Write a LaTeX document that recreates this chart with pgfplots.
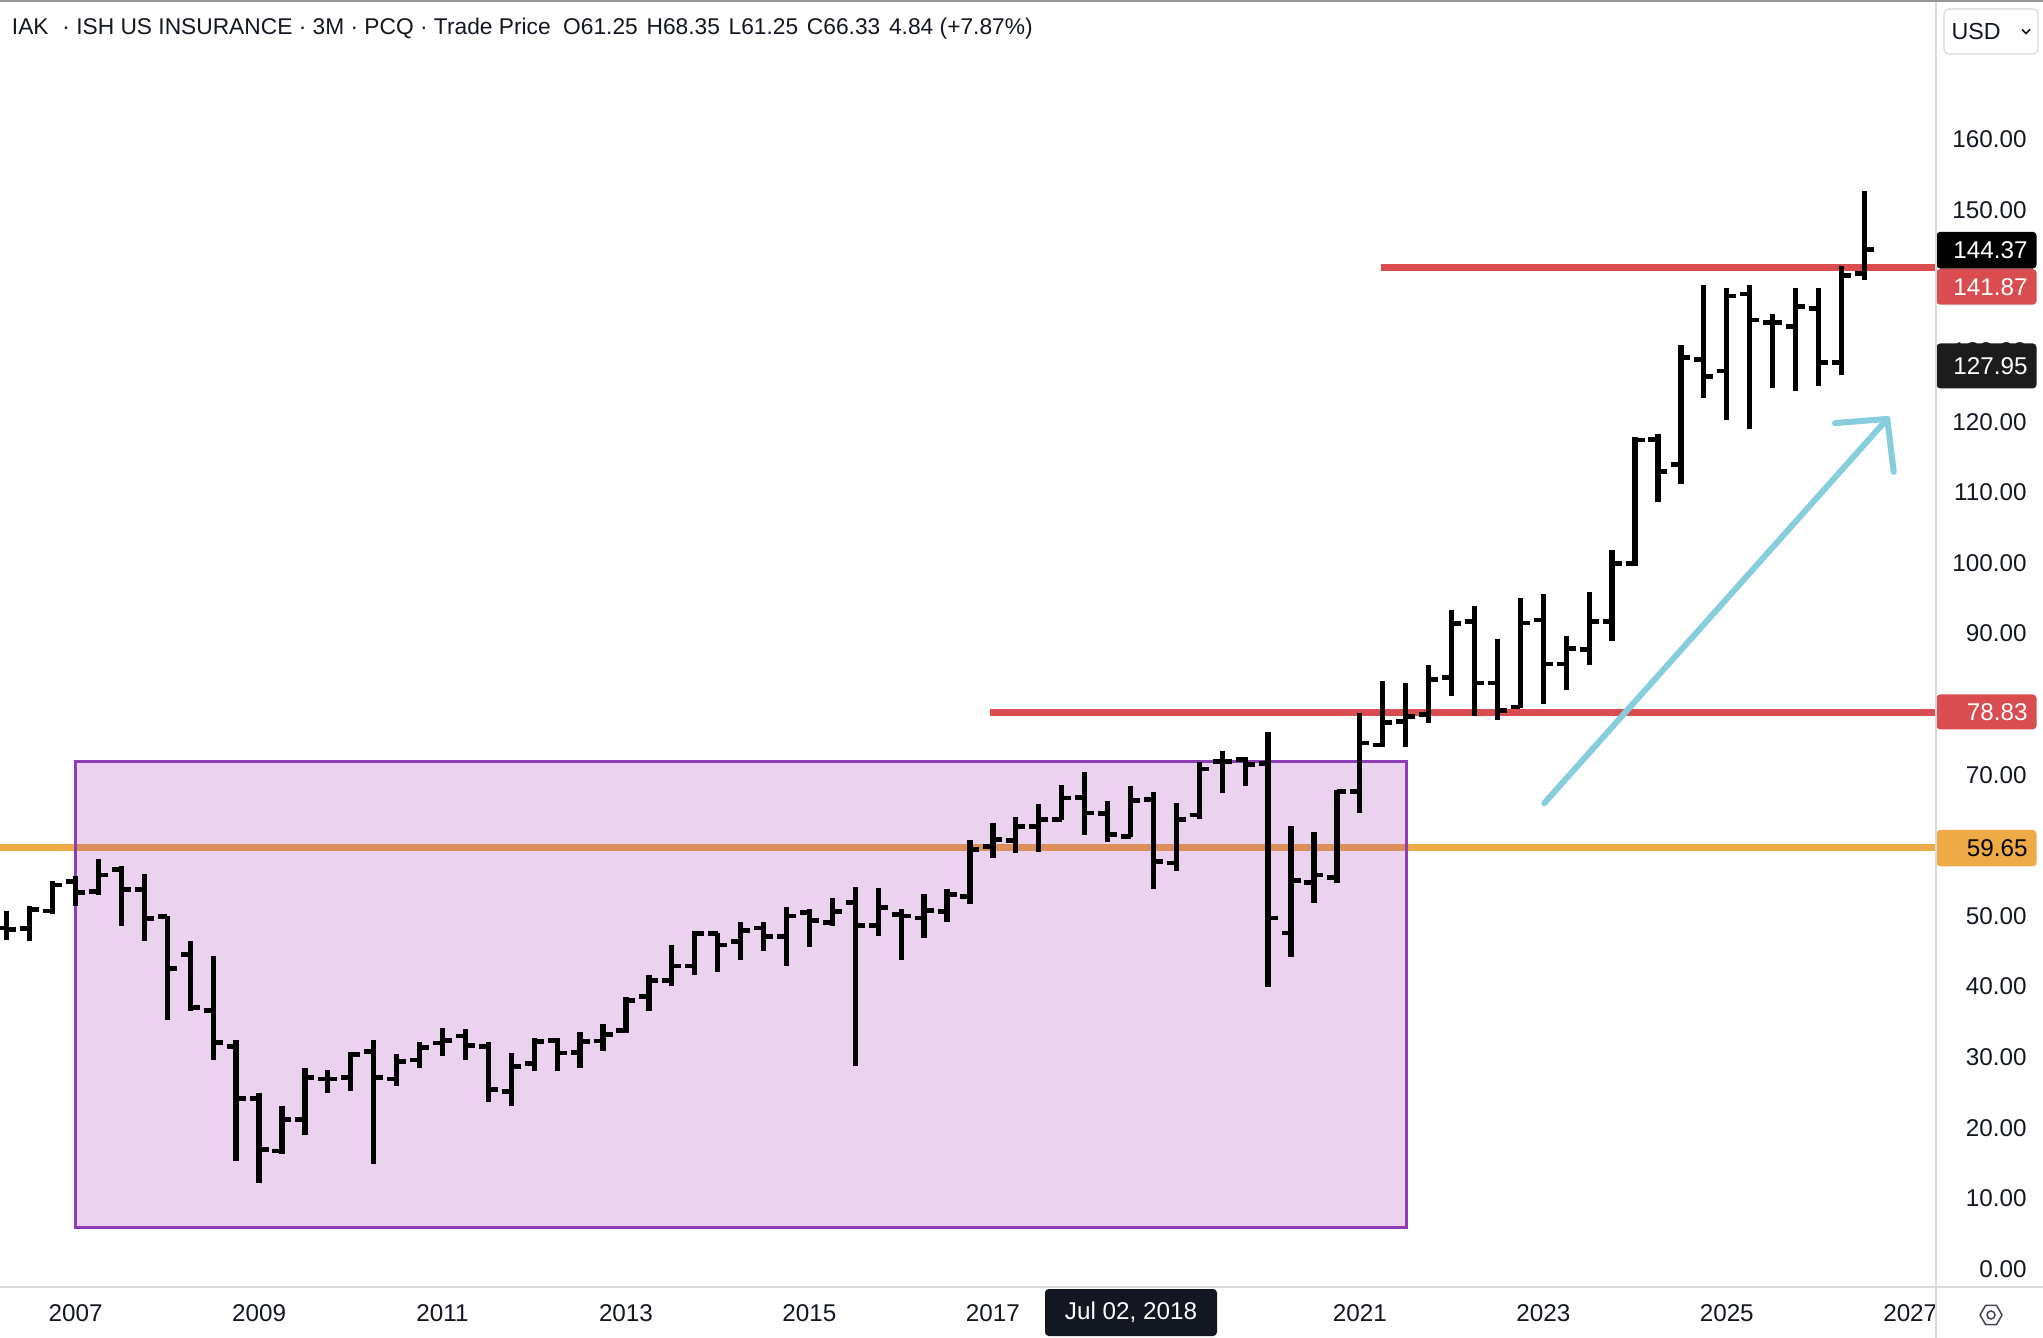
\documentclass[border=0pt]{standalone}
\usepackage{fontspec}
\setmainfont{Liberation Sans}
\usepackage{pgfplots}
\pgfplotsset{compat=1.18}
\usepackage{pgfplotstable}

\definecolor{rectborder}{HTML}{8E3DB5}
\definecolor{rectfill}{HTML}{9C27B0}
\definecolor{orng}{HTML}{EEAA46}
\definecolor{redl}{HTML}{D94D50}
\definecolor{cyanl}{HTML}{86CEDE}
\definecolor{tvtext}{HTML}{131722}
\definecolor{sepgray}{HTML}{D8DAE0}
\definecolor{darklbl}{HTML}{1C1C1C}

\pgfdeclareplotmark{otick}{\pgfpathmoveto{\pgfqpoint{-3.8bp}{0bp}}\pgfpathlineto{\pgfqpoint{0bp}{0bp}}\pgfusepathqstroke}
\pgfdeclareplotmark{ctick}{\pgfpathmoveto{\pgfqpoint{0bp}{0bp}}\pgfpathlineto{\pgfqpoint{3.8bp}{0bp}}\pgfusepathqstroke}

\newcommand{\lbl}{\fontsize{9.7bp}{11bp}\selectfont}

\pgfplotstableread{
x o h l c
2006.25 48.3 50.7 46.6 48.1
2006.50 48.2 51.4 46.4 50.9
2006.75 50.7 55.0 50.3 54.4
2007.00 54.9 55.6 51.4 53.3
2007.25 53.5 58.0 52.9 55.8
2007.50 56.6 57.1 48.6 53.7
2007.75 53.8 56.0 46.5 49.6
2008.00 49.9 50.0 35.2 42.6
2008.25 44.5 46.4 36.6 37.0
2008.50 36.6 44.4 29.6 32.1
2008.75 31.5 32.5 15.3 24.1
2009.00 24.2 24.9 12.2 16.9
2009.25 16.7 23.1 16.3 21.2
2009.50 21.2 28.5 19.0 27.1
2009.75 26.9 28.2 24.9 26.9
2010.00 27.1 30.7 25.2 30.4
2010.25 30.8 32.5 14.8 27.1
2010.50 26.9 30.4 25.9 29.4
2010.75 29.6 32.2 28.4 31.4
2011.00 32.0 34.1 30.1 32.4
2011.25 33.0 34.0 29.6 31.7
2011.50 31.5 32.2 23.6 25.4
2011.75 25.1 30.6 23.1 28.7
2012.00 29.1 32.7 28.1 32.2
2012.25 32.4 32.7 28.0 30.6
2012.50 30.7 33.6 28.4 32.2
2012.75 32.3 34.7 30.9 33.2
2013.00 33.8 38.5 33.4 38.0
2013.25 38.6 41.6 36.6 40.9
2013.50 40.9 45.9 40.1 42.9
2013.75 42.9 47.8 41.6 47.5
2014.00 47.5 47.6 42.1 45.9
2014.25 46.4 49.1 43.8 47.9
2014.50 48.3 49.1 45.1 47.1
2014.75 47.1 51.2 42.9 50.0
2015.00 50.5 51.0 45.6 49.4
2015.25 49.1 52.6 48.6 50.6
2015.50 51.9 54.1 28.8 48.6
2015.75 48.7 53.9 47.2 51.2
2016.00 50.2 51.0 43.7 50.0
2016.25 49.7 53.1 46.9 50.8
2016.50 50.6 53.8 49.1 53.0
2016.75 52.8 60.8 51.7 59.4
2017.00 59.8 63.2 58.2 60.8
2017.25 60.7 64.0 58.9 62.7
2017.50 62.7 65.9 59.0 63.7
2017.75 63.7 68.5 63.6 66.7
2018.00 66.8 70.4 61.5 64.6
2018.25 64.5 66.3 60.5 61.5
2018.50 61.25 68.35 61.25 66.33
2018.75 66.5 67.5 53.8 57.7
2019.00 57.5 66.0 56.4 63.7
2019.25 64.3 71.8 63.7 70.8
2019.50 71.9 73.3 67.4 71.9
2019.75 72.2 72.5 68.4 71.4
2020.00 71.6 76.1 40.0 49.7
2020.25 47.6 62.7 44.2 55.0
2020.50 54.7 61.9 51.9 55.8
2020.75 55.5 67.8 54.6 67.6
2021.00 67.6 78.7 64.6 74.5
2021.25 74.2 83.3 74.0 77.4
2021.50 77.5 83.0 74.0 78.3
2021.75 78.5 85.5 77.4 83.5
2022.00 83.8 93.3 81.1 91.4
2022.25 91.7 93.9 78.3 83.0
2022.50 83.0 89.2 77.7 79.1
2022.75 79.6 95.1 79.4 91.5
2023.00 91.9 95.6 80.0 85.7
2023.25 85.7 89.6 82.0 87.9
2023.50 87.7 95.9 85.5 91.7
2023.75 91.7 101.9 89.0 99.9
2024.00 99.9 117.9 99.5 117.4
2024.25 117.5 118.3 108.7 113.0
2024.50 113.9 130.8 111.2 129.1
2024.75 128.8 139.4 123.3 126.4
2025.00 127.2 139.0 120.2 137.8
2025.25 138.1 139.4 118.9 134.4
2025.50 134.0 135.3 124.8 134.0
2025.75 133.5 139.0 124.3 136.3
2026.00 136.0 139.0 125.0 128.4
2026.25 128.4 142.1 126.6 140.7
2026.50 141.0 152.7 140.1 144.4
}\ohlc

\begin{document}
\begin{tikzpicture}
\path[use as bounding box] (0bp,-20.4bp) rectangle (817.2bp,514.8bp);
\fill[white] (0bp,-20.4bp) rectangle (817.2bp,514.8bp);
\begin{axis}[
  at={(0bp,0bp)}, anchor=south west, scale only axis,
  width=774.4bp, height=514.8bp,
  xmin=2006.176, xmax=2027.281, ymin=-2.55, ymax=179.73,
  axis x line*=bottom, axis y line*=right,
  axis line style={draw=none},
  tick style={draw=none},
  clip mode=individual,
  xtick={2007,2009,...,2027},
  ytick={0,10,...,160},
  xticklabel style={anchor=center, inner sep=0pt, yshift=-10.4bp, font=\lbl, text=tvtext,
     /pgf/number format/.cd, 1000 sep={}, fixed, precision=0, assume math mode=true},
  yticklabel style={anchor=east, inner sep=0pt, xshift=36.4bp, font=\lbl, text=tvtext,
     /pgf/number format/.cd, fixed, fixed zerofill, precision=2, assume math mode=true},
]
% support line 59.65
\draw[orng, line width=2.7bp] (axis cs:2006.176,59.65) -- (axis cs:2027.281,59.65);
% rectangle
\draw[rectborder, line width=1.3bp, fill=rectfill, fill opacity=0.2]
  (axis cs:2007.0,5.9) rectangle (axis cs:2021.51,71.86);
% resistance lines
\draw[redl, line width=2.7bp] (axis cs:2016.97,78.83) -- (axis cs:2027.281,78.83);
\draw[redl, line width=2.7bp] (axis cs:2021.23,141.87) -- (axis cs:2027.281,141.87);
% arrow
\draw[cyanl, line width=2.4bp, line cap=round, line join=round]
  (axis cs:2023.01,65.97) -- (axis cs:2026.75,120.4);
\draw[cyanl, line width=2.4bp, line cap=round, line join=round]
  (axis cs:2026.18,119.8) -- (axis cs:2026.75,120.4) -- (axis cs:2026.82,112.9);
% OHLC bars: high-low range
\addplot[draw=none, mark=none, error bars/.cd, y dir=plus, y explicit, error mark=none,
  error bar style={line width=2.1bp, draw=black}]
  table[x=x, y=l, y error plus expr=\thisrow{h}-\thisrow{l}] {\ohlc};
% open (left) and close (right) ticks
\addplot[only marks, mark=otick, mark options={line width=1.9bp, draw=black}]
  table[x=x, y=o] {\ohlc};
\addplot[only marks, mark=ctick, mark options={line width=1.9bp, draw=black}]
  table[x=x, y=c] {\ohlc};
% price labels
\tikzset{plbl/.style={anchor=west, text width=32.8bp, align=right, inner xsep=3.6bp, inner ysep=0pt, font=\lbl, rounded corners=1.5bp}}
\node[plbl, fill=darklbl, text=white, minimum height=18bp] at (axis cs:2027.281,127.9) {127.95};
\node[plbl, fill=redl, text=white, minimum height=14.3bp] at (axis cs:2027.281,139.1) {141.87};
\node[plbl, fill=black, text=white, minimum height=14.7bp] at (axis cs:2027.281,144.3) {144.37};
\node[plbl, fill=redl, text=white, minimum height=14bp] at (axis cs:2027.281,78.9) {78.83};
\node[plbl, fill=orng, text=black, minimum height=14.6bp] at (axis cs:2027.281,59.6) {59.65};
\end{axis}
% right panel cover below axis
\fill[white] (774.4bp,-20.4bp) rectangle (817.2bp,-0.2bp);
% frame lines
\draw[sepgray, line width=0.6bp] (0bp,0bp) -- (817.2bp,0bp);
\draw[sepgray, line width=0.6bp] (774.4bp,-20.4bp) -- (774.4bp,514.8bp);
\draw[gray!80, line width=0.8bp] (0bp,514.4bp) -- (817.2bp,514.4bp);
% date label
\node[fill=tvtext, text=white, font=\lbl, minimum width=68.8bp, minimum height=18.8bp, inner sep=0pt, rounded corners=1.5bp]
  at (452.4bp,-10.2bp) {Jul 02, 2018};
% header
\node[anchor=west, inner sep=0pt, font=\fontsize{9.1bp}{11bp}\selectfont, text=tvtext] at (4.6bp,503.2bp)
  {IAK\hspace{5.5bp}· ISH US INSURANCE · 3M · PCQ · Trade Price\hspace{5bp}O61.25\hspace{3.5bp}H68.35\hspace{3.5bp}L61.25\hspace{3.5bp}C66.33\hspace{3.5bp}4.84 (+7.87\%)};
% USD box
\draw[sepgray, line width=0.5bp, rounded corners=2bp] (777.6bp,493.2bp) rectangle (815.2bp,511.2bp);
\node[anchor=west, inner sep=0pt, font=\fontsize{9.3bp}{11bp}\selectfont, text=tvtext] at (780.4bp,502.1bp) {USD};
\draw[tvtext, line width=0.6bp] (808.8bp,503.0bp) -- (810.4bp,501.4bp) -- (812bp,503.0bp);
% gear icon
\draw[tvtext!80, line width=0.6bp] (796.4bp,-11.2bp) circle (1.6bp);
\draw[tvtext!80, line width=0.6bp, line join=round]
  (796.4bp,-11.2bp) ++(0:4.4bp) -- ++(120:4.4bp) -- ++(180:4.4bp) -- ++(240:4.4bp) -- ++(300:4.4bp) -- ++(0:4.4bp) -- cycle;
\end{tikzpicture}
\end{document}
